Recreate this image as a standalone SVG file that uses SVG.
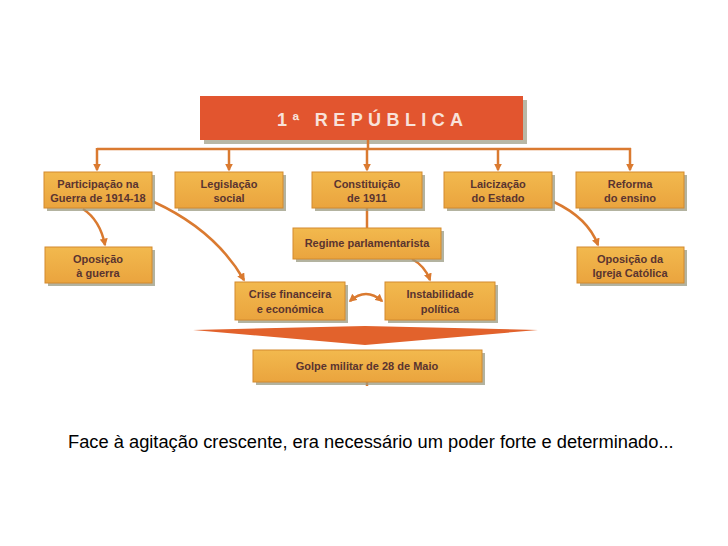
<svg xmlns="http://www.w3.org/2000/svg" width="728" height="546" viewBox="0 0 728 546">
<defs>
<style>
.box{fill:url(#g);stroke:#d38a2e;stroke-width:1}
.sh{fill:#9a9a80;opacity:0.75}
.t{font-family:"Liberation Sans",Arial,sans-serif;font-weight:bold;font-size:11px;fill:#5a3430;text-anchor:middle}
.ln{fill:none;stroke:#da7a30;stroke-width:2.5}
</style>
<linearGradient id="g" x1="0" y1="0" x2="0" y2="1">
<stop offset="0" stop-color="#f2b94e"/>
<stop offset="1" stop-color="#eaa43e"/>
</linearGradient>
<marker id="ah" viewBox="0 0 10 10" refX="8" refY="5" markerWidth="3.2" markerHeight="3.2" orient="auto-start-reverse">
<path d="M0,0 L10,5 L0,10 z" fill="#da7a30"/>
</marker>
</defs>
<rect width="728" height="546" fill="#fff"/>

<g id="title">
<rect x="204" y="100" width="323" height="44" fill="#9a9a80" opacity="0.7"/>
<rect x="200" y="96" width="323" height="44" fill="#e2552f"/>
<text x="277" y="126" font-family="'Liberation Sans',Arial,sans-serif" font-weight="bold" font-size="18" fill="#f8e2da" letter-spacing="5.4">1ª REPÚBLICA</text>
</g>

<g id="connectors">
<path class="ln" d="M368,140 V149"/>
<path class="ln" d="M97,149 H631"/>
<path class="ln" d="M97,148 V170" marker-end="url(#ah)"/>
<path class="ln" d="M229,148 V170" marker-end="url(#ah)"/>
<path class="ln" d="M367,148 V170" marker-end="url(#ah)"/>
<path class="ln" d="M498,148 V170" marker-end="url(#ah)"/>
<path class="ln" d="M630,148 V170" marker-end="url(#ah)"/>
<path class="ln" d="M83,209 Q100,220 105,245" marker-end="url(#ah)"/>
<path class="ln" d="M154,202 Q215,230 244,280" marker-end="url(#ah)"/>
<path class="ln" d="M367,208 V228"/>
<path class="ln" d="M412,259 Q425,266 430,280" marker-end="url(#ah)"/>
<path class="ln" d="M554,202 Q588,218 598,245" marker-end="url(#ah)"/>
<path class="ln" d="M350,301 Q366,287 382,301" marker-start="url(#ah)" marker-end="url(#ah)"/>
<path class="ln" d="M367,382 V386" stroke-width="2"/>
<polygon points="193,330 365,326 538,330 365,345" fill="#e2622c"/>
</g>

<g id="n1"><rect class="sh" x="47" y="175" width="108" height="36"/><rect class="box" x="44" y="172" width="108" height="36"/><text class="t" x="98" y="188">Participação na</text><text class="t" x="98" y="202">Guerra de 1914-18</text></g>
<g id="n2"><rect class="sh" x="178" y="175" width="108" height="36"/><rect class="box" x="175" y="172" width="108" height="36"/><text class="t" x="229" y="188">Legislação</text><text class="t" x="229" y="202">social</text></g>
<g id="n3"><rect class="sh" x="315" y="175" width="110" height="36"/><rect class="box" x="312" y="172" width="110" height="36"/><text class="t" x="367" y="188">Constituição</text><text class="t" x="367" y="202">de 1911</text></g>
<g id="n4"><rect class="sh" x="447" y="175" width="108" height="36"/><rect class="box" x="444" y="172" width="108" height="36"/><text class="t" x="498" y="188">Laicização</text><text class="t" x="498" y="202">do Estado</text></g>
<g id="n5"><rect class="sh" x="579" y="175" width="108" height="36"/><rect class="box" x="576" y="172" width="108" height="36"/><text class="t" x="630" y="188">Reforma</text><text class="t" x="630" y="202">do ensino</text></g>
<g id="n6"><rect class="sh" x="48" y="250" width="107" height="36"/><rect class="box" x="45" y="247" width="107" height="36"/><text class="t" x="98" y="263">Oposição</text><text class="t" x="98" y="277">à guerra</text></g>
<g id="n7"><rect class="sh" x="296" y="231" width="148" height="31"/><rect class="box" x="293" y="228" width="148" height="31"/><text class="t" x="367" y="247">Regime parlamentarista</text></g>
<g id="n8"><rect class="sh" x="580" y="250" width="107" height="36"/><rect class="box" x="577" y="247" width="107" height="36"/><text class="t" x="630" y="263">Oposição da</text><text class="t" x="630" y="277">Igreja Católica</text></g>
<g id="n9"><rect class="sh" x="238" y="285" width="110" height="38"/><rect class="box" x="235" y="282" width="110" height="38"/><text class="t" x="290" y="298">Crise financeira</text><text class="t" x="290" y="313">e económica</text></g>
<g id="n10"><rect class="sh" x="388" y="285" width="110" height="38"/><rect class="box" x="385" y="282" width="110" height="38"/><text class="t" x="440" y="298">Instabilidade</text><text class="t" x="440" y="313">política</text></g>
<g id="n11"><rect class="sh" x="256" y="353" width="229" height="32"/><rect class="box" x="253" y="350" width="229" height="32"/><text class="t" x="367" y="370">Golpe militar de 28 de Maio</text></g>

<text x="68" y="448" font-family="'Liberation Sans',Arial,sans-serif" font-size="18.3" fill="#000">Face à agitação crescente, era necessário um poder forte e determinado...</text>
</svg>
